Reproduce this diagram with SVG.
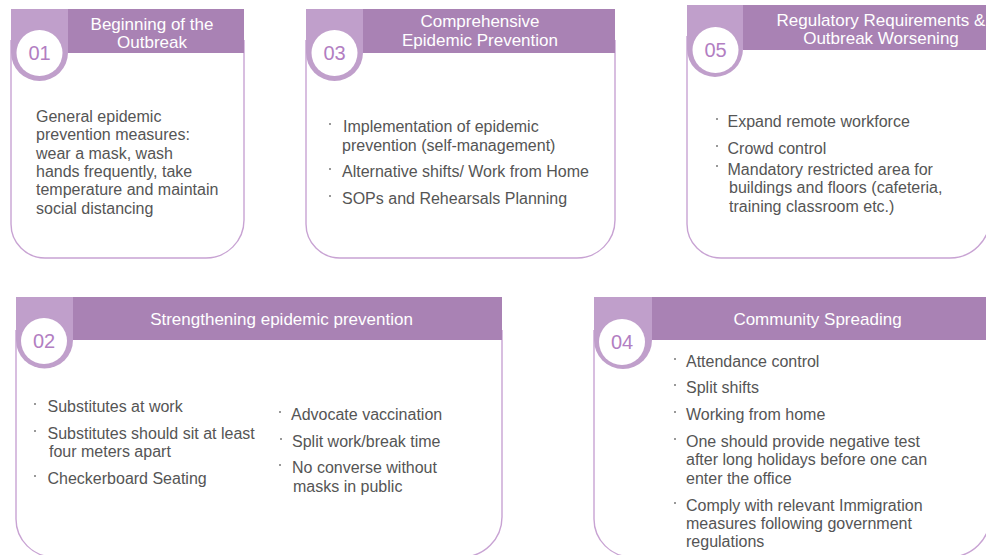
<svg xmlns="http://www.w3.org/2000/svg" width="986" height="555" viewBox="0 0 986 555">
  <style>
    .card { fill: #ffffff; stroke: #c8a3d3; stroke-width: 1.4; }
    .bar { fill: #a982b4; }
    .tab { fill: #c09fcb; }
    .disc { fill: #ffffff; }
    .num { font-family: "Liberation Sans", Arial, sans-serif; font-size: 20px; fill: #b27ec2; text-anchor: middle; }
    .head { font-family: "Liberation Sans", Arial, sans-serif; font-size: 17px; fill: #ffffff; text-anchor: middle; }
    .body { font-family: "Liberation Sans", Arial, sans-serif; font-size: 16px; fill: #555555; }
    .dot { fill: #777777; }
  </style>
  <rect width="986" height="555" fill="#ffffff"/>

  <!-- Stage 01 -->
  <g id="stage01">
    <path class="card" d="M11,40 V224 A34,34 0 0 0 45,258 H206 A38,38 0 0 0 244,220 V40"/>
    <rect class="bar" x="68" y="9" width="176" height="44"/>
    <path class="tab" d="M11,9 H68 V52.5 A28.5,28.5 0 0 1 11,52.5 Z"/>
    <circle class="disc" cx="39.5" cy="53" r="23"/>
    <text class="num" x="39.5" y="60">01</text>
    <text class="head" x="152" y="30">Beginning of the</text>
    <text class="head" x="152" y="48">Outbreak</text>
    <text class="body" x="36" y="122">General epidemic</text>
    <text class="body" x="36" y="140.3">prevention measures:</text>
    <text class="body" x="36" y="158.6">wear a mask, wash</text>
    <text class="body" x="36" y="176.9">hands frequently, take</text>
    <text class="body" x="36" y="195.2">temperature and maintain</text>
    <text class="body" x="36" y="213.5">social distancing</text>
  </g>

  <!-- Stage 03 -->
  <g id="stage03">
    <path class="card" d="M306,40 V224 A34,34 0 0 0 340,258 H577 A38,38 0 0 0 615,220 V40"/>
    <rect class="bar" x="363" y="9" width="252" height="44"/>
    <path class="tab" d="M306,9 H363 V52.5 A28.5,28.5 0 0 1 306,52.5 Z"/>
    <circle class="disc" cx="334.5" cy="53" r="23"/>
    <text class="num" x="334.5" y="60">03</text>
    <text class="head" x="480" y="27">Comprehensive</text>
    <text class="head" x="480" y="45.5">Epidemic Prevention</text>
    <circle class="dot" cx="330" cy="124" r="1"/>
    <text class="body" x="343" y="132">Implementation of epidemic</text>
    <text class="body" x="342" y="151">prevention (self-management)</text>
    <circle class="dot" cx="330" cy="169" r="1"/>
    <text class="body" x="342" y="177">Alternative shifts/ Work from Home</text>
    <circle class="dot" cx="330" cy="196" r="1"/>
    <text class="body" x="342" y="204">SOPs and Rehearsals Planning</text>
  </g>

  <!-- Stage 05 -->
  <g id="stage05">
    <path class="card" d="M687,36 V224 A34,34 0 0 0 721,258 H950 A40,40 0 0 0 990,218 V36"/>
    <rect class="bar" x="743" y="5" width="250" height="45"/>
    <path class="tab" d="M687,5 H743 V49 A28,28 0 0 1 687,49 Z"/>
    <circle class="disc" cx="715.5" cy="50" r="23"/>
    <text class="num" x="715.5" y="57">05</text>
    <text class="head" x="881" y="25.5">Regulatory Requirements &amp;</text>
    <text class="head" x="881" y="44">Outbreak Worsening</text>
    <circle class="dot" cx="717" cy="119" r="1"/>
    <text class="body" x="727.5" y="127">Expand remote workforce</text>
    <circle class="dot" cx="717" cy="146" r="1"/>
    <text class="body" x="727.5" y="154">Crowd control</text>
    <circle class="dot" cx="717" cy="166" r="1"/>
    <text class="body" x="727.5" y="174.5">Mandatory restricted area for</text>
    <text class="body" x="729" y="193">buildings and floors (cafeteria,</text>
    <text class="body" x="729" y="211.5">training classroom etc.)</text>
  </g>

  <!-- Stage 02 -->
  <g id="stage02">
    <path class="card" d="M16,330 V519 A38,38 0 0 0 54,557 H462 A40,40 0 0 0 502,517 V330"/>
    <rect class="bar" x="73" y="297" width="429" height="43"/>
    <path class="tab" d="M16,297 H73 V340 A28.5,28.5 0 0 1 16,340 Z"/>
    <circle class="disc" cx="44" cy="341" r="23"/>
    <text class="num" x="44" y="348">02</text>
    <text class="head" x="281.5" y="325">Strengthening epidemic prevention</text>
    <circle class="dot" cx="35" cy="404" r="1"/>
    <text class="body" x="47.5" y="412">Substitutes at work</text>
    <circle class="dot" cx="35" cy="431" r="1"/>
    <text class="body" x="47.5" y="439">Substitutes should sit at least</text>
    <text class="body" x="49" y="457">four meters apart</text>
    <circle class="dot" cx="35" cy="476" r="1"/>
    <text class="body" x="47.5" y="484">Checkerboard Seating</text>
    <circle class="dot" cx="280" cy="412" r="1"/>
    <text class="body" x="291" y="420">Advocate vaccination</text>
    <circle class="dot" cx="281" cy="439" r="1"/>
    <text class="body" x="292" y="447">Split work/break time</text>
    <circle class="dot" cx="280" cy="465" r="1"/>
    <text class="body" x="292" y="473">No converse without</text>
    <text class="body" x="293" y="492">masks in public</text>
  </g>

  <!-- Stage 04 -->
  <g id="stage04">
    <path class="card" d="M594,330 V519 A38,38 0 0 0 632,557 H950 A40,40 0 0 0 990,517 V330"/>
    <rect class="bar" x="652" y="297" width="340" height="43"/>
    <path class="tab" d="M594,297 H652 V340 A29,29 0 0 1 594,340 Z"/>
    <circle class="disc" cx="622" cy="342" r="23"/>
    <text class="num" x="622" y="349">04</text>
    <text class="head" x="817.5" y="325">Community Spreading</text>
    <circle class="dot" cx="675" cy="359" r="1"/>
    <text class="body" x="686" y="367">Attendance control</text>
    <circle class="dot" cx="675" cy="385" r="1"/>
    <text class="body" x="686" y="392.5">Split shifts</text>
    <circle class="dot" cx="675" cy="412" r="1"/>
    <text class="body" x="686" y="420">Working from home</text>
    <circle class="dot" cx="675" cy="439" r="1"/>
    <text class="body" x="686" y="447">One should provide negative test</text>
    <text class="body" x="686" y="465">after long holidays before one can</text>
    <text class="body" x="686" y="483.5">enter the office</text>
    <circle class="dot" cx="675" cy="503" r="1"/>
    <text class="body" x="686" y="511">Comply with relevant Immigration</text>
    <text class="body" x="686" y="529">measures following government</text>
    <text class="body" x="686" y="547">regulations</text>
  </g>

  <g id="connectors"/>
</svg>
